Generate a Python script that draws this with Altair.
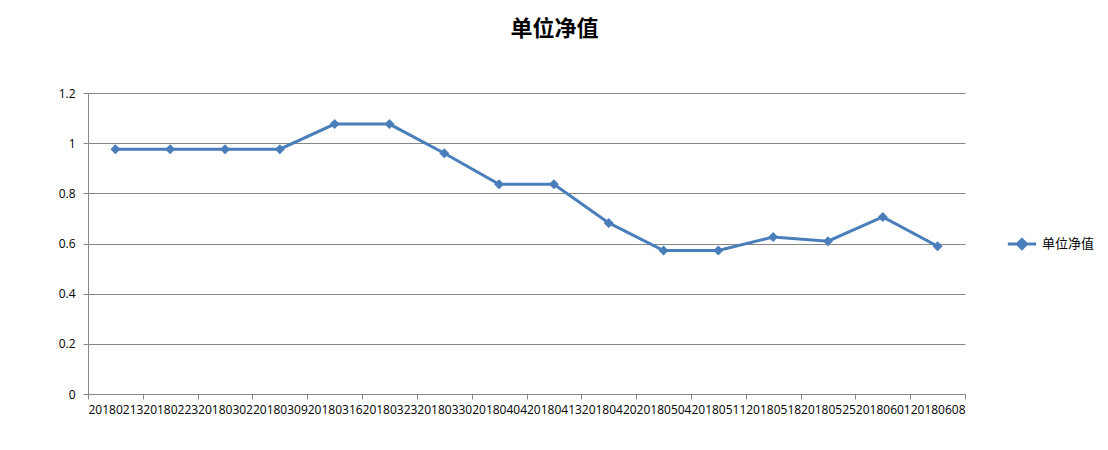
import altair as alt
import pandas as pd

dates = ["20180213", "20180223", "20180302", "20180309", "20180316", "20180323",
         "20180330", "20180404", "20180413", "20180420", "20180504", "20180511",
         "20180518", "20180525", "20180601", "20180608"]
values = [0.976, 0.976, 0.976, 0.976, 1.076, 1.076, 0.960, 0.836, 0.836, 0.682,
          0.572, 0.572, 0.626, 0.609, 0.706, 0.589]
series_name = "单位净值"
y_ticks = [0, 0.2, 0.4, 0.6, 0.8, 1.0, 1.2]

df = pd.DataFrame({"date": dates, "value": values, "series": [series_name] * len(dates)})

BLUE = "#4A7EBB"
GRID = "#868686"

x_enc = alt.X("date:N", sort=dates, title=None,
              scale=alt.Scale(paddingInner=0, paddingOuter=0),
              axis=alt.Axis(labelAngle=0, labelOverlap=False, tickBand="extent",
                            domainColor=GRID, tickColor=GRID, tickSize=5,
                            labelPadding=5, labelFont="Open Sans", labelFontSize=12,
                            labelColor="#000000", grid=False))
y_enc = alt.Y("value:Q", title=None,
              scale=alt.Scale(domain=[0, 1.2], nice=False),
              axis=alt.Axis(values=y_ticks, format=".1~f", domainColor=GRID,
                            tickColor=GRID, tickSize=5, labelPadding=8,
                            gridColor=GRID, gridWidth=1, labelFont="Open Sans",
                            labelFontSize=12, labelColor="#000000"))

color_enc = alt.Color("series:N", title=None,
                      scale=alt.Scale(domain=[series_name], range=[BLUE]),
                      legend=alt.Legend(orient="none", legendX=918, legendY=135,
                                        symbolType="M-1,0L1,0M0,-0.32L0.32,0L0,0.32L-0.32,0Z",
                                        symbolSize=800, symbolStrokeWidth=3,
                                        symbolFillColor=BLUE, labelFont="Noto Sans CJK SC",
                                        labelFontSize=13, labelColor="#000000",
                                        labelOffset=4))

line = alt.Chart(df).mark_line(strokeWidth=3).encode(x=x_enc, y=y_enc, color=color_enc)
points = alt.Chart(df).mark_point(shape="diamond", filled=True, size=100, opacity=1,
                                  color=BLUE).encode(x=x_enc, y=y_enc)

chart = alt.layer(line, points).properties(
    width=877, height=301,
    title=alt.TitleParams(series_name, font="Noto Sans CJK SC", fontSize=22,
                          fontWeight="bold", color="#000000", anchor="middle",
                          dx=28, offset=46),
    autosize=alt.AutoSizeParams(type="none"),
    padding={"left": 80, "top": 85, "right": 134, "bottom": 40},
).configure_view(stroke=None)

chart.save("out.html", embed_options={"renderer": "svg", "actions": False})
